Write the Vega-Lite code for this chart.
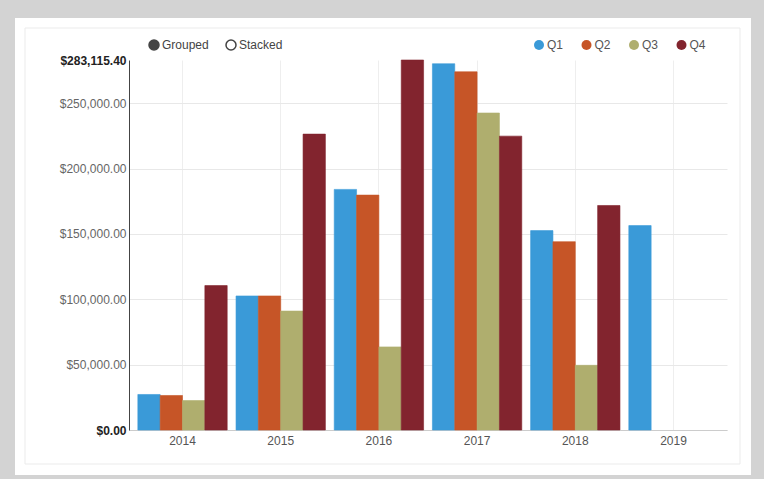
{
  "$schema": "https://vega.github.io/schema/vega-lite/v6.json",
  "background": "#d3d3d3",
  "padding": {"left": 15, "top": 18, "right": 14, "bottom": 4},
  "autosize": {"type": "pad"},
  "bounds": "flush",
  "spacing": 0,
  "config": {"view": {"stroke": null}, "font": "Liberation Sans"},
  "resolve": {
    "scale": {"fill": "independent", "color": "independent", "stroke": "independent"},
    "legend": {"fill": "independent", "color": "independent"}
  },
  "vconcat": [
    {
      "width": 598,
      "height": 1,
      "data": {"values": [{"v": 0}, {"v": 1}]},
      "mark": {"type": "point", "filled": true, "size": 1},
      "encoding": {
        "fill": {
          "field": "v",
          "type": "quantitative",
          "scale": {"range": ["#ffffff", "#ffffff"]},
          "legend": {
            "orient": "none",
            "legendX": -114,
            "legendY": -41,
            "direction": "horizontal",
            "title": null,
            "gradientLength": 715,
            "gradientThickness": 436,
            "gradientStrokeColor": "#e4e4e4",
            "gradientStrokeWidth": 1,
            "padding": 10,
            "fillColor": "#ffffff",
            "labelExpr": "''",
            "labelFontSize": 1,
            "labelOffset": 0
          }
        }
      }
    },
    {
      "width": 598,
      "height": 370,
      "layer": [
        {
          "data": {
            "values": [
              {"year": "2014", "quarter": "Q1", "value": 27180},
              {"year": "2014", "quarter": "Q2", "value": 26400},
              {"year": "2014", "quarter": "Q3", "value": 22560},
              {"year": "2014", "quarter": "Q4", "value": 110500},
              {"year": "2015", "quarter": "Q1", "value": 102560},
              {"year": "2015", "quarter": "Q2", "value": 102560},
              {"year": "2015", "quarter": "Q3", "value": 91020},
              {"year": "2015", "quarter": "Q4", "value": 226400},
              {"year": "2016", "quarter": "Q1", "value": 184100},
              {"year": "2016", "quarter": "Q2", "value": 179740},
              {"year": "2016", "quarter": "Q3", "value": 63590},
              {"year": "2016", "quarter": "Q4", "value": 283115.4},
              {"year": "2017", "quarter": "Q1", "value": 280250},
              {"year": "2017", "quarter": "Q2", "value": 274090},
              {"year": "2017", "quarter": "Q3", "value": 242550},
              {"year": "2017", "quarter": "Q4", "value": 224860},
              {"year": "2018", "quarter": "Q1", "value": 152560},
              {"year": "2018", "quarter": "Q2", "value": 144100},
              {"year": "2018", "quarter": "Q3", "value": 49490},
              {"year": "2018", "quarter": "Q4", "value": 171790},
              {"year": "2019", "quarter": "Q1", "value": 156400}
            ]
          },
          "mark": {"type": "bar", "strokeWidth": 0.6},
          "encoding": {
            "x": {
              "field": "year",
              "type": "nominal",
              "scale": {"paddingInner": 0.09, "paddingOuter": 0.09},
              "axis": {
                "title": null,
                "labelAngle": 0,
                "labelFontSize": 12,
                "labelColor": "#555555",
                "ticks": false,
                "labelPadding": 5,
                "domainColor": "#cccccc",
                "grid": true,
                "gridColor": "#eeeeee",
                "bandPosition": 0.5
              }
            },
            "xOffset": {
              "field": "quarter",
              "type": "nominal",
              "scale": {"domain": ["Q1", "Q2", "Q3", "Q4"], "paddingInner": 0, "paddingOuter": 0}
            },
            "y": {
              "field": "value",
              "type": "quantitative",
              "scale": {"domain": [0, 283115.4], "nice": false, "zero": true},
              "axis": {
                "title": null,
                "values": [0, 50000, 100000, 150000, 200000, 250000, 283115.4],
                "format": "$,.2f",
                "labelFontSize": 12,
                "labelColor": {"condition": {"test": "datum.value === 0 || datum.value > 260000", "value": "#222222"}, "value": "#666666"},
                "labelFontWeight": {"condition": {"test": "datum.value === 0 || datum.value > 260000", "value": "bold"}, "value": "normal"},
                "labelFlush": false,
                "labelOverlap": false,
                "ticks": false,
                "labelPadding": 3,
                "domainColor": "#444444",
                "grid": true,
                "gridColor": {"condition": {"test": "datum.value > 260000", "value": "rgba(0,0,0,0)"}, "value": "#e8e8e8"}
              }
            },
            "color": {
              "field": "quarter",
              "type": "nominal",
              "scale": {"domain": ["Q1", "Q2", "Q3", "Q4"], "range": ["#3a9ad8", "#c65527", "#afae6e", "#82242e"]},
              "legend": {
                "orient": "none",
                "legendX": 404,
                "legendY": -21,
                "direction": "horizontal",
                "title": null,
                "symbolType": "circle",
                "symbolSize": 100,
                "symbolStrokeWidth": 0,
                "labelFontSize": 12,
                "labelColor": "#555555",
                "labelOffset": 2,
                "columnPadding": 16.5,
                "padding": 0
              }
            },
            "stroke": {
              "field": "quarter",
              "type": "nominal",
              "scale": {"domain": ["Q1", "Q2", "Q3", "Q4"], "range": ["#3a9ad8", "#c65527", "#afae6e", "#82242e"]},
              "legend": null
            }
          }
        },
        {
          "data": {"values": [{"mode": "Grouped"}, {"mode": "Stacked"}]},
          "mark": {"type": "point", "size": 0, "filled": false, "opacity": 1, "stroke": "#444444", "strokeWidth": 1.5},
          "encoding": {
            "fill": {
              "field": "mode",
              "type": "nominal",
              "scale": {"domain": ["Grouped", "Stacked"], "range": ["#444444", "#ffffff"]},
              "legend": {
                "orient": "none",
                "legendX": 19,
                "legendY": -21,
                "direction": "horizontal",
                "title": null,
                "symbolType": "circle",
                "symbolSize": 100,
                "symbolOpacity": 1,
                "symbolStrokeColor": "#444444",
                "symbolStrokeWidth": 1.5,
                "labelFontSize": 12,
                "labelColor": "#444444",
                "labelOffset": 2,
                "columnPadding": 14,
                "padding": 0
              }
            }
          }
        }
      ]
    }
  ]
}
